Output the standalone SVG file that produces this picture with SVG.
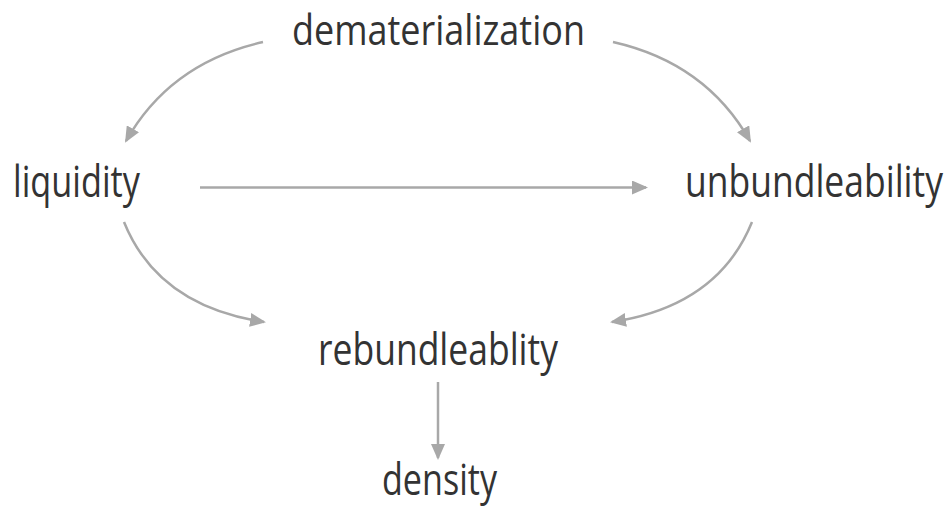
<svg xmlns="http://www.w3.org/2000/svg" width="950" height="508" viewBox="0 0 950 508">
<style>
.lbl{font-family:"Open Sans","Noto Sans","Liberation Sans",sans-serif;font-size:43px;fill:#333;}
.con{fill:none;stroke:#a8a8a8;stroke-width:2.5;}
</style>
<defs>
<marker id="ah" markerUnits="userSpaceOnUse" markerWidth="16" markerHeight="14" refX="14" refY="7" orient="auto">
<path d="M0,0 L16,7 L0,14 Z" fill="#a8a8a8"/>
</marker>
</defs>
<rect width="950" height="508" fill="#fff"/>
<g id="connectors">
<path class="con" d="M263,42 Q170,63 126,141" marker-end="url(#ah)"/>
<path class="con" d="M613,42 Q706,63 750,141" marker-end="url(#ah)"/>
<path class="con" d="M200,187.5 L646,187.5" marker-end="url(#ah)"/>
<path class="con" d="M124,222 Q158,306 264,322" marker-end="url(#ah)"/>
<path class="con" d="M752,222 Q718,306 612,322" marker-end="url(#ah)"/>
<path class="con" d="M438,382 L438,458" marker-end="url(#ah)"/>
</g>
<g id="dematerialization"><text class="lbl" x="292" y="44.5" style="font-size:42px" textLength="293" lengthAdjust="spacingAndGlyphs">dematerialization</text></g>
<g id="liquidity"><text class="lbl" x="13" y="197" textLength="127" lengthAdjust="spacingAndGlyphs">liquidity</text></g>
<g id="unbundleability"><text class="lbl" transform="translate(685,197) scale(0.82,1)" x="0" y="0" textLength="314.6" lengthAdjust="spacingAndGlyphs">unbundleability</text></g>
<g id="rebundleablity"><text class="lbl" x="318" y="365" textLength="240" lengthAdjust="spacingAndGlyphs">rebundleablity</text></g>
<g id="density"><text class="lbl" x="382" y="495" textLength="115" lengthAdjust="spacingAndGlyphs">density</text></g>
</svg>
